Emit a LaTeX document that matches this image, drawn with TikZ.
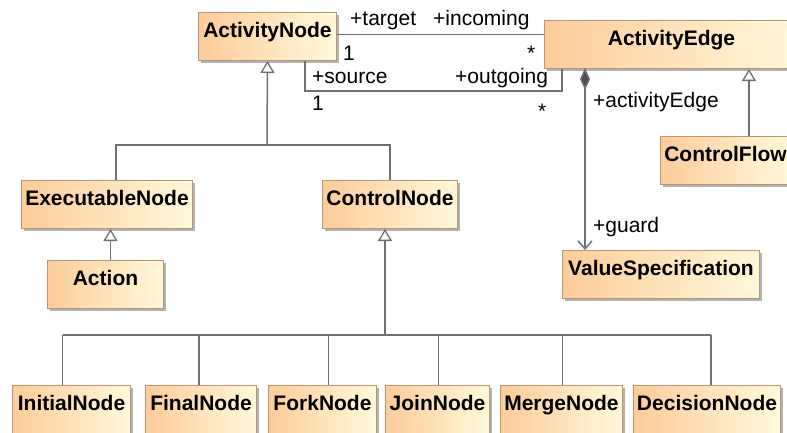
\documentclass[tikz,border=0pt]{standalone}
\usepackage{fontspec}
\setmainfont{Liberation Sans}
\usepackage{tikz}
\usetikzlibrary{arrows.meta,positioning,shadows,calc}
\definecolor{boxleft}{RGB}{253,204,154}
\definecolor{boxright}{RGB}{255,249,218}
\definecolor{boxborder}{RGB}{186,150,114}
\definecolor{linegray}{RGB}{112,112,112}
\definecolor{diamondgray}{RGB}{80,80,80}
\tikzset{
  classbox/.style={draw=boxborder, line width=1pt, left color=boxleft, right color=boxright, anchor=north west,
    drop shadow={shadow xshift=2.5pt, shadow yshift=-2.5pt, fill=black, opacity=0.3},
    font=\fontsize{21}{25}\selectfont\bfseries, inner xsep=2pt, inner ysep=4pt,
    text height=21pt, text depth=19pt, minimum height=48pt},
  role/.style={font=\fontsize{21}{25}\selectfont, inner sep=0pt, anchor=base west},
  assoc/.style={draw=linegray, line width=1.5pt},
  inherit/.style={assoc, -{Triangle[length=12pt, width=14pt, fill=white, line width=1.3pt]}},
  composite/.style={assoc, {Diamond[length=22pt, width=10pt, fill=diamondgray]}-{Straight Barb[length=8pt, width=14pt]}}
}
\begin{document}
\begin{tikzpicture}[x=1pt, y=-1pt]
    \useasboundingbox (0,0) rectangle (787,432);
    \clip (0,0) rectangle (787,432);

    \node[classbox, minimum width=138pt] (activitynode) at (198,12) {ActivityNode};
    \node[classbox, minimum width=254pt] (activityedge) at (544,20) {ActivityEdge};
    \node[classbox, minimum width=130pt] (controlflow) at (660,136) {ControlFlow};
    \node[classbox, minimum width=197pt] (valuespec) at (562,250) {ValueSpecification};
    \node[classbox, minimum width=171pt] (execnode) at (21,180) {ExecutableNode};
    \node[classbox, minimum width=116pt] (action) at (47,260) {Action};
    \node[classbox, minimum width=135pt] (controlnode) at (322,180) {ControlNode};
    \node[classbox, minimum width=118pt] (initial) at (12,385) {InitialNode};
    \node[classbox, minimum width=111pt] (final) at (145,385) {FinalNode};
    \node[classbox, minimum width=108pt] (fork) at (268,385) {ForkNode};
    \node[classbox, minimum width=104pt] (join) at (385,385) {JoinNode};
    \node[classbox, minimum width=122pt] (merge) at (500,385) {MergeNode};
    \node[classbox, minimum width=147pt] (decision) at (633,385) {DecisionNode};

    \coordinate (gentop) at (267,145);
    \coordinate (ctrljoin) at (385,335);
    \coordinate (srcbend) at (305,91);
    \coordinate (outbend) at (562,91);
    \coordinate (edgeport) at (585,68);
    \coordinate (flowport) at (749,136);

    \draw[assoc] ([yshift=2pt]activitynode.east) -- ([yshift=2pt]activitynode.east -| activityedge.west);
    \draw[assoc] (srcbend |- activitynode.south) -- (srcbend) -- (outbend) -- (outbend |- activityedge.south);
    \node[role] (targetlbl) at (350,25) {+target};
    \node[role] (incominglbl) at (433,25) {+incoming};
    \node[role] (targetmult) at (343,60) {1};
    \node[role] (incomingmult) at (527,60) {*};
    \node[role] (sourcelbl) at (312,83) {+source};
    \node[role] (outgoinglbl) at (455,83) {+outgoing};
    \node[role] (sourcemult) at (312,110) {1};
    \node[role] (outgoingmult) at (538,118) {*};

    \draw[composite] (edgeport) -- (edgeport |- valuespec.north);
    \node[role] (edgelbl) at (593,107) {+activityEdge};
    \node[role] (guardlbl) at (593,232) {+guard};

    \draw[inherit] (flowport) -- (flowport |- activityedge.south);

    \draw[assoc] ([xshift=9pt]execnode.north) |- (gentop) -| (controlnode.north);
    \draw[inherit] (gentop) -- (activitynode.south);
    \draw[inherit] ([xshift=5pt]action.north) -- ([xshift=5pt]action.north |- execnode.south);

    \draw[inherit] (ctrljoin) -- (ctrljoin |- controlnode.south);
    \draw[assoc] ([xshift=-9pt]initial.north |- ctrljoin) -- ([xshift=4pt]decision.north |- ctrljoin);
    \foreach \n/\dx in {initial/-9,final/-2,fork/6,join/1,merge/1,decision/4}
      \draw[assoc] ([xshift=\dx pt]\n.north) -- ([xshift=\dx pt]\n.north |- ctrljoin);
  \end{tikzpicture}
\end{document}
